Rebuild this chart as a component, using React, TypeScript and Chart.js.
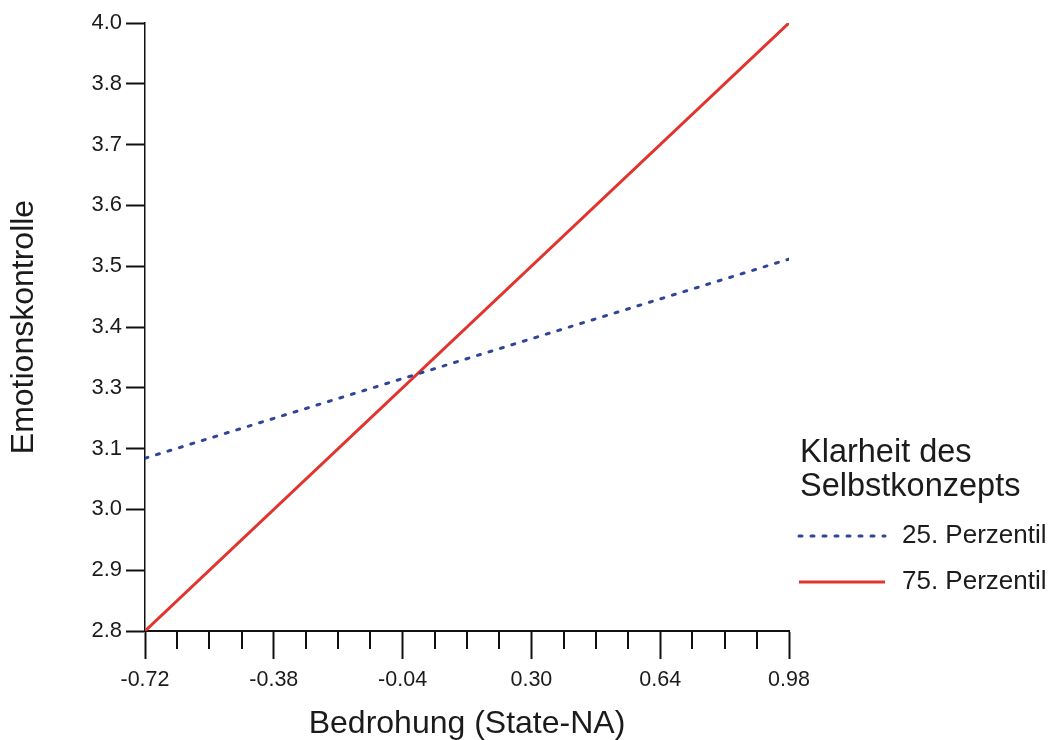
import React, { useEffect, useRef } from "react";
import { Chart, registerables } from "chart.js";

Chart.register(...registerables);

// ---- data ----
const xTickLabels = ["-0.72", "-0.38", "-0.04", "0.30", "0.64", "0.98"];
const yTickLabels = ["2.8", "2.9", "3.0", "3.1", "3.3", "3.4", "3.5", "3.6", "3.7", "3.8", "4.0"];
const xValues = [-0.72, 0.98];
const p25Values = [3.141, 3.534];
const p75Values = [2.8, 4.0];
const seriesLabels = ["25. Perzentil", "75. Perzentil"];
const legendTitle = ["Klarheit des", "Selbstkonzepts"];
const xTitle = "Bedrohung (State-NA)";
const yTitle = "Emotionskontrolle";
const xMin = -0.72;
const xMax = 0.98;
const yMin = 2.8;
const yMax = 4.0;
const minorPerMajor = 4;

const FONT = "'Liberation Sans', Arial, Helvetica, sans-serif";
const TEXT = "#1c1a1a";
const AXIS = "#111111";
const RED = "#e0342c";
const BLUE = "#2f4597";

const minorTicksPlugin = {
  id: "minorTicks",
  afterDraw(chart: any) {
    const xs = chart.scales.x;
    const ctx = chart.ctx;
    ctx.save();
    ctx.strokeStyle = AXIS;
    ctx.lineWidth = 2;
    xs.ticks.forEach((t: any, i: number) => {
      if (i % minorPerMajor !== 0) {
        const px = Math.round(xs.getPixelForValue(t.value));
        ctx.beginPath();
        ctx.moveTo(px, xs.top);
        ctx.lineTo(px, xs.top + 18);
        ctx.stroke();
      }
    });
    ctx.restore();
  },
};

const legendPlugin = {
  id: "customLegend",
  afterDraw(chart: any) {
    const ctx = chart.ctx;
    ctx.save();
    ctx.fillStyle = TEXT;
    ctx.textAlign = "left";
    ctx.textBaseline = "alphabetic";
    ctx.font = `32.5px ${FONT}`;
    ctx.fillText(legendTitle[0], 800, 462);
    ctx.fillText(legendTitle[1], 800, 496);
    const ys = [536, 582];
    chart.data.datasets.forEach((ds: any, i: number) => {
      const y = ys[i];
      ctx.save();
      ctx.strokeStyle = ds.borderColor;
      ctx.lineWidth = ds.borderWidth;
      ctx.lineCap = ds.borderCapStyle || "butt";
      ctx.setLineDash(ds.borderDash || []);
      ctx.beginPath();
      ctx.moveTo(799, y);
      ctx.lineTo(885, y);
      ctx.stroke();
      ctx.restore();
      ctx.font = `26px ${FONT}`;
      ctx.textBaseline = "middle";
      ctx.fillStyle = TEXT;
      ctx.fillText(ds.label, 902, y);
    });
    ctx.restore();
  },
};

export default function App() {
  const ref = useRef<HTMLCanvasElement | null>(null);

  useEffect(() => {
    if (!ref.current) return;
    const chart = new Chart(ref.current, {
      type: "line",
      data: {
        datasets: [
          {
            label: seriesLabels[0],
            data: xValues.map((x, i) => ({ x, y: p25Values[i] })),
            borderColor: BLUE,
            borderWidth: 3,
            borderDash: [3, 9],
            borderCapStyle: "round",
            pointRadius: 0,
            fill: false,
          },
          {
            label: seriesLabels[1],
            data: xValues.map((x, i) => ({ x, y: p75Values[i] })),
            borderColor: RED,
            borderWidth: 3,
            pointRadius: 0,
            fill: false,
          },
        ],
      },
      options: {
        animation: false,
        responsive: false,
        devicePixelRatio: 1,
        layout: { padding: { top: 23, right: 261, left: 0, bottom: 0 } },
        plugins: {
          legend: { display: false },
          tooltip: { enabled: false },
        },
        scales: {
          x: {
            type: "linear",
            min: xMin,
            max: xMax,
            afterBuildTicks: (s: any) => {
              const n = (xTickLabels.length - 1) * minorPerMajor;
              s.ticks = Array.from({ length: n + 1 }, (_, i) => ({
                value: xMin + (i * (xMax - xMin)) / n,
              }));
            },
            afterFit: (s: any) => {
              s.height = 109;
            },
            ticks: {
              autoSkip: false,
              maxRotation: 0,
              padding: 8,
              color: TEXT,
              font: { family: FONT, size: 21.5 },
              callback: (_v: any, i: number) =>
                i % minorPerMajor === 0 ? xTickLabels[i / minorPerMajor] : "",
            },
            grid: {
              drawOnChartArea: false,
              drawTicks: true,
              tickLength: 28,
              tickWidth: 2,
              tickColor: (c: any) => (c.index % minorPerMajor === 0 ? AXIS : "rgba(0,0,0,0)"),
            },
            border: { display: true, color: AXIS, width: 2 },
            title: {
              display: true,
              text: xTitle,
              color: TEXT,
              font: { family: FONT, size: 32, lineHeight: 1 },
              padding: { top: 0, bottom: 0 },
            },
          },
          y: {
            type: "linear",
            min: yMin,
            max: yMax,
            afterBuildTicks: (s: any) => {
              const n = yTickLabels.length - 1;
              s.ticks = Array.from({ length: n + 1 }, (_, i) => ({
                value: yMin + (i * (yMax - yMin)) / n,
              }));
            },
            afterFit: (s: any) => {
              s.width = 145;
            },
            ticks: {
              autoSkip: false,
              padding: 4,
              color: TEXT,
              font: { family: FONT, size: 22 },
              callback: (_v: any, i: number) => yTickLabels[i],
            },
            grid: {
              drawOnChartArea: false,
              drawTicks: true,
              tickLength: 19,
              tickWidth: 2,
              tickColor: AXIS,
            },
            border: { display: true, color: AXIS, width: 1.5 },
            title: {
              display: true,
              text: yTitle,
              color: TEXT,
              font: { family: FONT, size: 32, lineHeight: 1 },
              padding: { top: 8, bottom: 0 },
            },
          },
        },
      },
      plugins: [minorTicksPlugin, legendPlugin],
    } as any);
    return () => chart.destroy();
  }, []);

  return (
    <div style={{ position: "fixed", left: 0, top: 0, width: 1050, height: 740, background: "#fff" }}>
      <canvas ref={ref} width={1050} height={740} style={{ width: 1050, height: 740 }} />
    </div>
  );
}
